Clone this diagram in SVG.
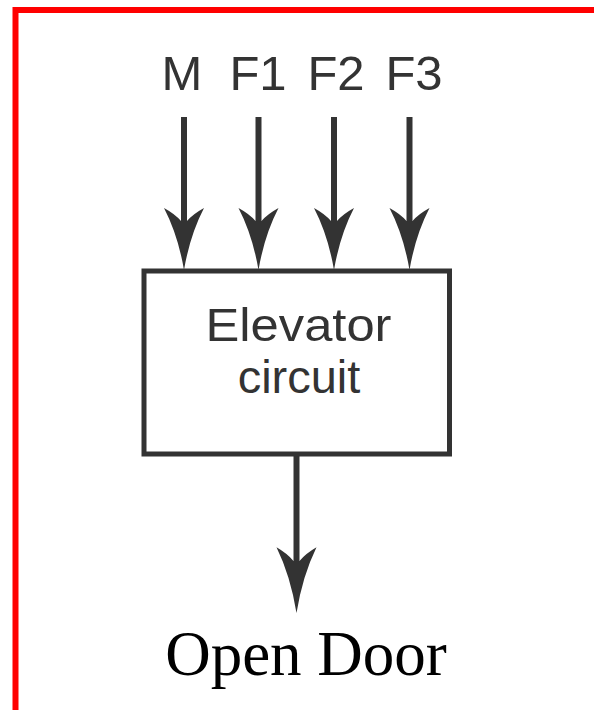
<svg xmlns="http://www.w3.org/2000/svg" xmlns:xlink="http://www.w3.org/1999/xlink" width="594" height="710" viewBox="0 0 594 710">
<style>
.frame{fill:none;stroke:#ff0000;stroke-width:6}
.box{fill:#fff;stroke:#333;stroke-width:5}
.shaft{stroke:#333;stroke-width:6;fill:none}
.head{fill:#333}
.lbl{font-family:"Liberation Sans",Arial,sans-serif;font-size:49px;fill:#333;text-anchor:middle}
.inner{font-size:47px}
.ttl{font-family:"Liberation Serif","Times New Roman",serif;font-size:63px;fill:#000;text-anchor:middle}
</style>
<defs>
<path id="ah" d="M0,0 Q-6,-35 -20,-62 Q-9,-56 -3,-49 L3,-49 Q9,-56 20,-62 Q6,-35 0,0 Z"/>
</defs>
<rect width="594" height="710" fill="#fff"/>
<path class="frame" d="M15.5,710 V10 H594"/>
<g id="labels">
<text class="lbl" x="182" y="90">M</text>
<text class="lbl" x="258" y="90">F1</text>
<text class="lbl" x="336" y="90">F2</text>
<text class="lbl" x="414" y="90">F3</text>
</g>
<g id="connectors">
<line class="shaft" x1="184" y1="117" x2="184" y2="225"/>
<line class="shaft" x1="258.5" y1="117" x2="258.5" y2="225"/>
<line class="shaft" x1="334" y1="117" x2="334" y2="225"/>
<line class="shaft" x1="409.5" y1="117" x2="409.5" y2="225"/>
<use class="head" xlink:href="#ah" href="#ah" x="184" y="270"/>
<use class="head" xlink:href="#ah" href="#ah" x="258.5" y="270"/>
<use class="head" xlink:href="#ah" href="#ah" x="334" y="270"/>
<use class="head" xlink:href="#ah" href="#ah" x="409.5" y="270"/>
<line class="shaft" x1="296.5" y1="454" x2="296.5" y2="565"/>
<use class="head" xlink:href="#ah" href="#ah" transform="translate(296.5,613) scale(1,1.06)"/>
</g>
<g id="elevator">
<rect class="box" x="144" y="271" width="305.5" height="183"/>
<text class="lbl inner" x="298.5" y="341" textLength="186" lengthAdjust="spacingAndGlyphs">Elevator</text>
<text class="lbl inner" x="299" y="393">circuit</text>
</g>
<g id="open-door">
<text class="ttl" x="306" y="675">Open Door</text>
</g>
</svg>
